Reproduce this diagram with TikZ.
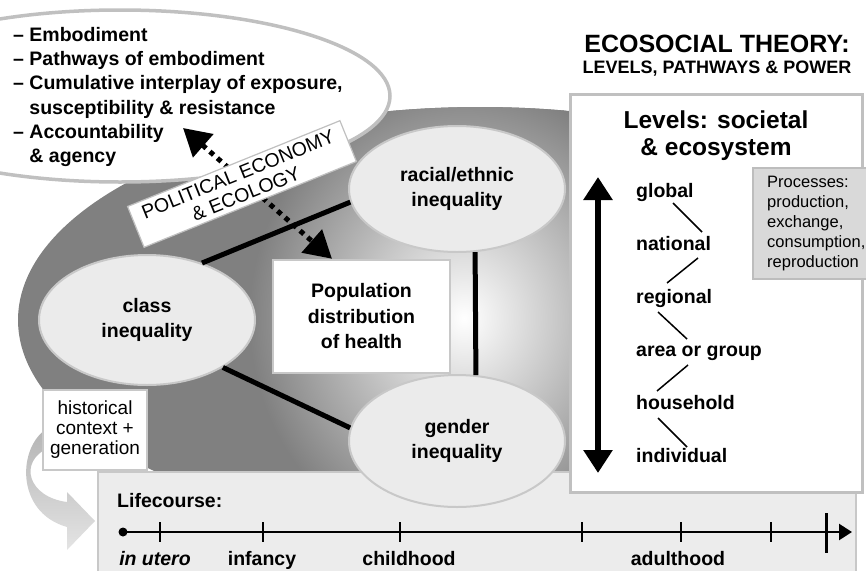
\documentclass[tikz,border=0pt]{standalone}
\usepackage{fontspec}
\setmainfont{Liberation Sans}
\usetikzlibrary{arrows.meta,shapes.geometric,calc}

\definecolor{bgdark}{HTML}{808080}
\definecolor{ovalfill}{HTML}{EBEBEB}
\definecolor{ovaledge}{HTML}{C8C8C8}
\definecolor{boxedge}{HTML}{C0C0C0}
\definecolor{procfill}{HTML}{D9D9D9}
\definecolor{procedge}{HTML}{BDBDBD}
\definecolor{lifefill}{HTML}{ECECEC}
\definecolor{bendtop}{HTML}{B4B4B4}
\definecolor{bendbot}{HTML}{E4E4E4}

\newcommand\txtsize[2]{\fontsize{#1pt}{#2pt}\selectfont}

\begin{document}
\begin{tikzpicture}[x=1pt,y=-1pt,
    oval/.style={ellipse,draw=ovaledge,line width=2pt,fill=ovalfill,inner sep=0pt,
      minimum width=216pt,align=center,font=\bfseries\txtsize{19.5}{25.5}},
    link/.style={line width=5pt},
    whitebox/.style={rectangle,draw=ovaledge,fill=white,inner sep=0pt,align=center},
    level/.style={anchor=base west,inner sep=0pt,font=\bfseries\txtsize{19.5}{24}},
    rung/.style={line width=1.5pt},
    tick/.style={line width=2pt},
    phase/.style={anchor=base,inner sep=0pt,font=\bfseries\txtsize{19.5}{24}}]

\useasboundingbox (0,0) rectangle (866,570);

% shaded background oval
\begin{scope}
  \clip (0,0) rectangle (860,570);
  \fill[bgdark] (480,320) ellipse [x radius=462, y radius=213];
  \clip (480,320) ellipse [x radius=462, y radius=213];
  \shade[inner color=white, outer color=bgdark] (464,318) ellipse [x radius=215, y radius=235];
\end{scope}

% embodiment oval
\draw[boxedge,line width=3.5pt,fill=white] (120,96) ellipse [x radius=270, y radius=86];
\node[anchor=north west,inner sep=0pt,align=left,font=\bfseries\txtsize{19.5}{24.3}] (themes) at (13,27)
  {\textendash{} Embodiment\\
   \textendash{} Pathways of embodiment\\
   \textendash{} Cumulative interplay of exposure,\\
   \hphantom{\textendash{} }susceptibility \& resistance\\
   \textendash{} Accountability\\
   \hphantom{\textendash{} }\& agency};

% lifecourse
\node[rectangle,draw=ovaledge,line width=2pt,fill=lifefill,anchor=north west,
  minimum width=758pt,minimum height=110pt,inner sep=0pt] (life) at (97,471) {};
\node[anchor=base west,inner sep=0pt,font=\bfseries\txtsize{19.5}{24}] (lifelabel) at (117,507) {Lifecourse:};
\coordinate (birth) at (123,532);
\coordinate (death) at (852,532);
\draw[line width=2.5pt,-{Triangle[width=16pt,length=13pt]}] (birth) -- (death);
\fill (birth) circle (4.5);
\foreach \t in {160,263,400,582,681,771}
  \draw[tick] (\t,522) -- (\t,542);
\draw[line width=3pt] (826,513) -- (826,553);
\node[phase] (utero) at (155,565) {\itshape in utero};
\node[phase] (infancy) at (262,565) {infancy};
\node[phase] (childhood) at (409,565) {childhood};
\node[phase] (adulthood) at (678,565) {adulthood};

% inequalities
\node[oval,minimum height=130pt] (class) at (147,320) {class\\inequality};
\node[oval,minimum height=126pt] (racial) at (457,189) {racial/ethnic\\inequality};
\node[oval,minimum height=132pt] (gender) at (457,441) {gender\\inequality};
\draw[link] (class.46) -- (racial.-173);
\draw[link] (class.-32) -- (gender.173);
\draw[link] (racial.-74) -- (gender.74);

\node[whitebox,line width=2.5pt,minimum width=177pt,minimum height=113pt,
  font=\bfseries\txtsize{19.5}{25.5}] (health) at (361.5,316.5) {Population\\distribution\\of health};

\coordinate (embtip) at (183,128);
\draw[line width=5pt,dash pattern=on 5pt off 5pt,
  {Triangle[width=30pt,length=27pt]}-{Triangle[width=30pt,length=27pt]}]
  (embtip) -- ([xshift=-29.5pt]health.north);

\node[whitebox,draw=boxedge,line width=1.2pt,rotate=22,minimum width=229pt,minimum height=44pt,
  font=\txtsize{19.5}{21}] (polecon) at (242,184) {POLITICAL ECONOMY\\\& ECOLOGY};

% history arrow
\shade[top color=bendtop,bottom color=bendbot] (48,428) .. controls (18,445) and (14,512) .. (67,527)
  -- (67,550) -- (95,521) -- (67,492) -- (67,502) .. controls (28,497) and (18,462) .. (48,448) -- cycle;
\node[whitebox,line width=1.2pt,minimum width=104pt,minimum height=80pt,
  font=\txtsize{19}{20}] (history) at (95,430) {historical\\context +\\generation};

% levels
\node[rectangle,draw=boxedge,line width=3pt,fill=white,minimum width=292pt,minimum height=398pt,
  inner sep=0pt] (levels) at (716,293) {};
\node[anchor=north,inner sep=0pt,align=center,font=\bfseries\txtsize{24.5}{27}] (levelstitle) at (716,111)
  {Levels: societal\\\& ecosystem};
\coordinate (scaletop) at (598,177);
\coordinate (scalebot) at (598,473);
\draw[line width=6pt,{Triangle[width=28pt,length=23pt]}-{Triangle[width=28pt,length=23pt]}] (scaletop) -- (scalebot);

\node[level] (global) at (636,197) {global};
\node[level] (national) at (636,250) {national};
\node[level] (regional) at (636,303) {regional};
\node[level] (areagroup) at (636,356) {area or group};
\node[level] (household) at (636,409) {household};
\node[level] (individual) at (636,462) {individual};
\draw[rung] ($(global.base west)+(37,6)$) -- ($(national.base west)+(66,-18)$);
\draw[rung] ($(national.base west)+(62,8)$) -- ($(regional.base west)+(31,-20)$);
\draw[rung] ($(regional.base west)+(22,9)$) -- ($(areagroup.base west)+(51,-17)$);
\draw[rung] ($(areagroup.base west)+(52,9)$) -- ($(household.base west)+(21,-18)$);
\draw[rung] ($(household.base west)+(22,9)$) -- ($(individual.base west)+(51,-15)$);

\node[rectangle,draw=procedge,fill=procfill,line width=2pt,anchor=north west,
  minimum width=130pt,minimum height=111pt,inner sep=0pt] (procbox) at (752,167) {};
\node[anchor=north west,inner sep=0pt,align=left,font=\txtsize{16.5}{20}] (processes) at (767,176)
  {Processes:\\production,\\exchange,\\consumption,\\reproduction};

% title
\node[anchor=base,inner sep=0pt,font=\bfseries\txtsize{25}{30}] (title) at (717,52) {ECOSOCIAL THEORY:};
\node[anchor=base,inner sep=0pt,font=\bfseries\txtsize{18}{22}] (subtitle) at (717,73) {LEVELS, PATHWAYS \& POWER};
\end{tikzpicture}
\end{document}
